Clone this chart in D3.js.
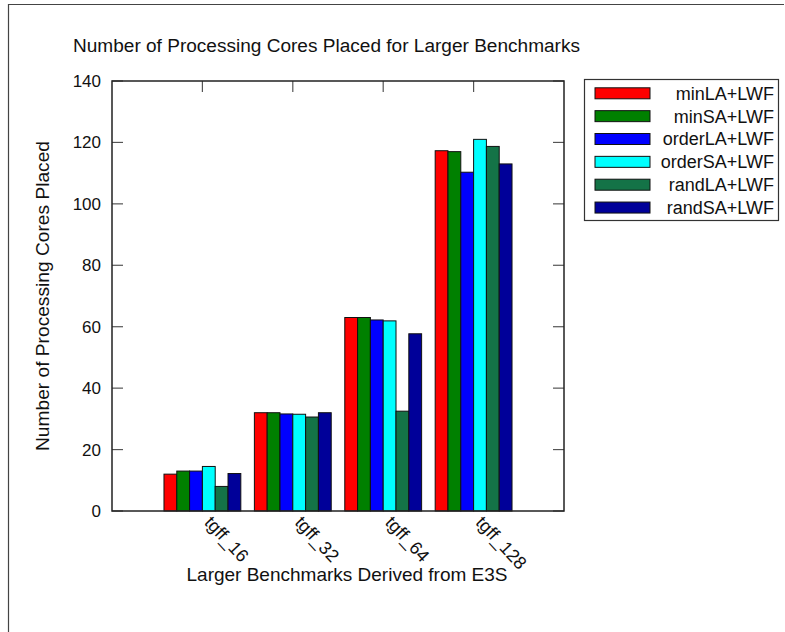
<!DOCTYPE html>
<html>
<head>
<meta charset="utf-8">
<script src="https://cdn.jsdelivr.net/npm/d3@7"></script>
<style>
  body { margin: 0; background: #fff; }
  svg text { font-family: "Liberation Sans", Arial, Helvetica, sans-serif; fill: #111; }
</style>
</head>
<body>
<svg id="chart" width="785" height="632"></svg>
<script>
// values
const benchmarks = ["tgff_16", "tgff_32", "tgff_64", "tgff_128"];
const methods = ["minLA+LWF", "minSA+LWF", "orderLA+LWF", "orderSA+LWF", "randLA+LWF", "randSA+LWF"];
const colors = ["#ff0000", "#008000", "#0000ff", "#00ffff", "#147347", "#000099"];
const minLA   = [12, 32, 63, 117.3];
const minSA   = [13, 32, 63, 117];
const orderLA = [13, 31.6, 62.2, 110.3];
const orderSA = [14.5, 31.5, 61.9, 121];
const randLA  = [8, 30.6, 32.5, 118.7];
const randSA  = [12.2, 32, 57.7, 113];
const series = [minLA, minSA, orderLA, orderSA, randLA, randSA];
const yTicks = [0, 20, 40, 60, 80, 100, 120, 140];

const svg = d3.select("#chart");
const m = { left: 112, right: 564, top: 81, bottom: 511 };

// frame around the figure
svg.append("path")
  .attr("d", "M8.5,632 L8.5,4.5 L784,4.5")
  .attr("fill", "none").attr("stroke", "#444").attr("stroke-width", 1.2);

// MATLAB-style x: groups at 1..4, xlim [0,5]
const x = d3.scaleLinear().domain([0, 5]).range([m.left, m.right]);
const y = d3.scaleLinear().domain([0, 140]).range([m.bottom, m.top]);
const groupW = 0.85;
const inner = d3.scaleBand().domain(d3.range(methods.length)).range([-groupW / 2, groupW / 2]).padding(0);

// inward ticks, both sides
const tickLen = 11;
const g = svg.append("g");
yTicks.forEach(t => {
  g.append("line").attr("x1", m.left).attr("x2", m.left + tickLen).attr("y1", y(t)).attr("y2", y(t))
    .attr("stroke", "#555").attr("stroke-width", 1.2);
  g.append("line").attr("x1", m.right).attr("x2", m.right - tickLen).attr("y1", y(t)).attr("y2", y(t))
    .attr("stroke", "#555").attr("stroke-width", 1.2);
});
benchmarks.forEach((b, i) => {
  g.append("line").attr("x1", x(i + 1)).attr("x2", x(i + 1)).attr("y1", m.top).attr("y2", m.top + tickLen)
    .attr("stroke", "#555").attr("stroke-width", 1.2);
  g.append("line").attr("x1", x(i + 1)).attr("x2", x(i + 1)).attr("y1", m.bottom).attr("y2", m.bottom - tickLen)
    .attr("stroke", "#555").attr("stroke-width", 1.2);
});

// bars
const unit = x(1) - x(0);
series.forEach((vals, s) => {
  svg.append("g").selectAll("rect")
    .data(vals)
    .join("rect")
    .attr("x", (d, i) => x(i + 1 + inner(s)))
    .attr("width", inner.bandwidth() * unit)
    .attr("y", d => y(d))
    .attr("height", d => y(0) - y(d))
    .attr("fill", colors[s])
    .attr("stroke", "#111")
    .attr("stroke-width", 1);
});

// axes box
svg.append("rect")
  .attr("x", m.left).attr("y", m.top)
  .attr("width", m.right - m.left).attr("height", m.bottom - m.top)
  .attr("fill", "none").attr("stroke", "#222").attr("stroke-width", 1.5);

// y tick labels
svg.append("g").selectAll("text")
  .data(yTicks)
  .join("text")
  .attr("x", m.left - 11)
  .attr("y", d => y(d))
  .attr("dy", "0.35em")
  .attr("text-anchor", "end")
  .style("font-size", "17px")
  .text(d => d);

// rotated x tick labels
svg.append("g").selectAll("text")
  .data(benchmarks)
  .join("text")
  .attr("transform", (d, i) => `translate(${x(i + 1) + 11},${m.bottom + 3}) rotate(47)`)
  .attr("dy", "0.75em")
  .attr("text-anchor", "start")
  .style("font-size", "18px")
  .text(d => d);

// titles
svg.append("text")
  .attr("x", 73).attr("y", 52)
  .attr("textLength", 507).attr("lengthAdjust", "spacingAndGlyphs")
  .style("font-size", "18px")
  .text("Number of Processing Cores Placed for Larger Benchmarks");

svg.append("text")
  .attr("x", 347).attr("y", 581)
  .attr("text-anchor", "middle")
  .attr("textLength", 321).attr("lengthAdjust", "spacingAndGlyphs")
  .style("font-size", "18.5px")
  .text("Larger Benchmarks Derived from E3S");

svg.append("text")
  .attr("transform", `translate(43,${(m.top + m.bottom) / 2}) rotate(-90)`)
  .attr("dy", "0.35em")
  .attr("text-anchor", "middle")
  .attr("textLength", 310).attr("lengthAdjust", "spacingAndGlyphs")
  .style("font-size", "18.5px")
  .text("Number of Processing Cores Placed");

// legend
const lg = svg.append("g");
lg.append("rect")
  .attr("x", 584.5).attr("y", 79.5).attr("width", 194).attr("height", 141)
  .attr("fill", "#fff").attr("stroke", "#333").attr("stroke-width", 1.2);
methods.forEach((name, i) => {
  const cy = 93.3 + i * 22.85;
  lg.append("rect")
    .attr("x", 595).attr("y", cy - 5.5).attr("width", 55).attr("height", 11)
    .attr("fill", colors[i]).attr("stroke", "#111").attr("stroke-width", 1);
  lg.append("text")
    .attr("x", 774).attr("y", cy).attr("dy", "0.36em")
    .attr("text-anchor", "end")
    .style("font-size", "18px")
    .text(name);
});
</script>
</body>
</html>
